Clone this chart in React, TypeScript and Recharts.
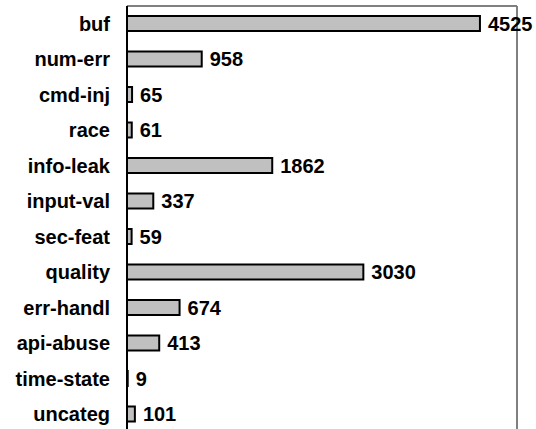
import React from 'react';
import {
  BarChart,
  Bar,
  XAxis,
  YAxis,
  ReferenceLine,
  LabelList,
} from 'recharts';

// Weakness categories, top to bottom
const categories = [
  'buf',
  'num-err',
  'cmd-inj',
  'race',
  'info-leak',
  'input-val',
  'sec-feat',
  'quality',
  'err-handl',
  'api-abuse',
  'time-state',
  'uncateg',
];

// Finding counts per category
const counts = [4525, 958, 65, 61, 1862, 337, 59, 3030, 674, 413, 9, 101];

const xMax = 5000;

const data = categories.map((name, i) => ({ name, value: counts[i] }));

const font = '"Liberation Sans", Arial, sans-serif';

export default function App() {
  return (
    <div style={{ position: 'absolute', left: 0, top: 0, background: '#fff' }}>
      <BarChart
        width={536}
        height={432}
        data={data}
        layout="vertical"
        margin={{ top: 4, right: 19, bottom: 0, left: 0 }}
      >
        <XAxis
          type="number"
          orientation="top"
          domain={[0, xMax]}
          height={2}
          tick={false}
          tickLine={false}
          axisLine={{ stroke: '#808080', strokeWidth: 2 }}
        />
        <YAxis
          type="category"
          dataKey="name"
          width={127}
          tickLine={false}
          tickSize={0}
          tickMargin={17}
          interval={0}
          axisLine={{ stroke: '#000', strokeWidth: 2 }}
          tick={{ fill: '#000', fontSize: 20, fontWeight: 'bold', fontFamily: font }}
        />
        <ReferenceLine x={xMax} stroke="#808080" strokeWidth={2} />
        <Bar
          dataKey="value"
          fill="#C0C0C0"
          stroke="#000"
          strokeWidth={2}
          barSize={15}
          isAnimationActive={false}
        >
          <LabelList
            dataKey="value"
            position="right"
            offset={8}
            fill="#000"
            style={{ fontSize: 20, fontWeight: 'bold', fontFamily: font }}
          />
        </Bar>
      </BarChart>
    </div>
  );
}
